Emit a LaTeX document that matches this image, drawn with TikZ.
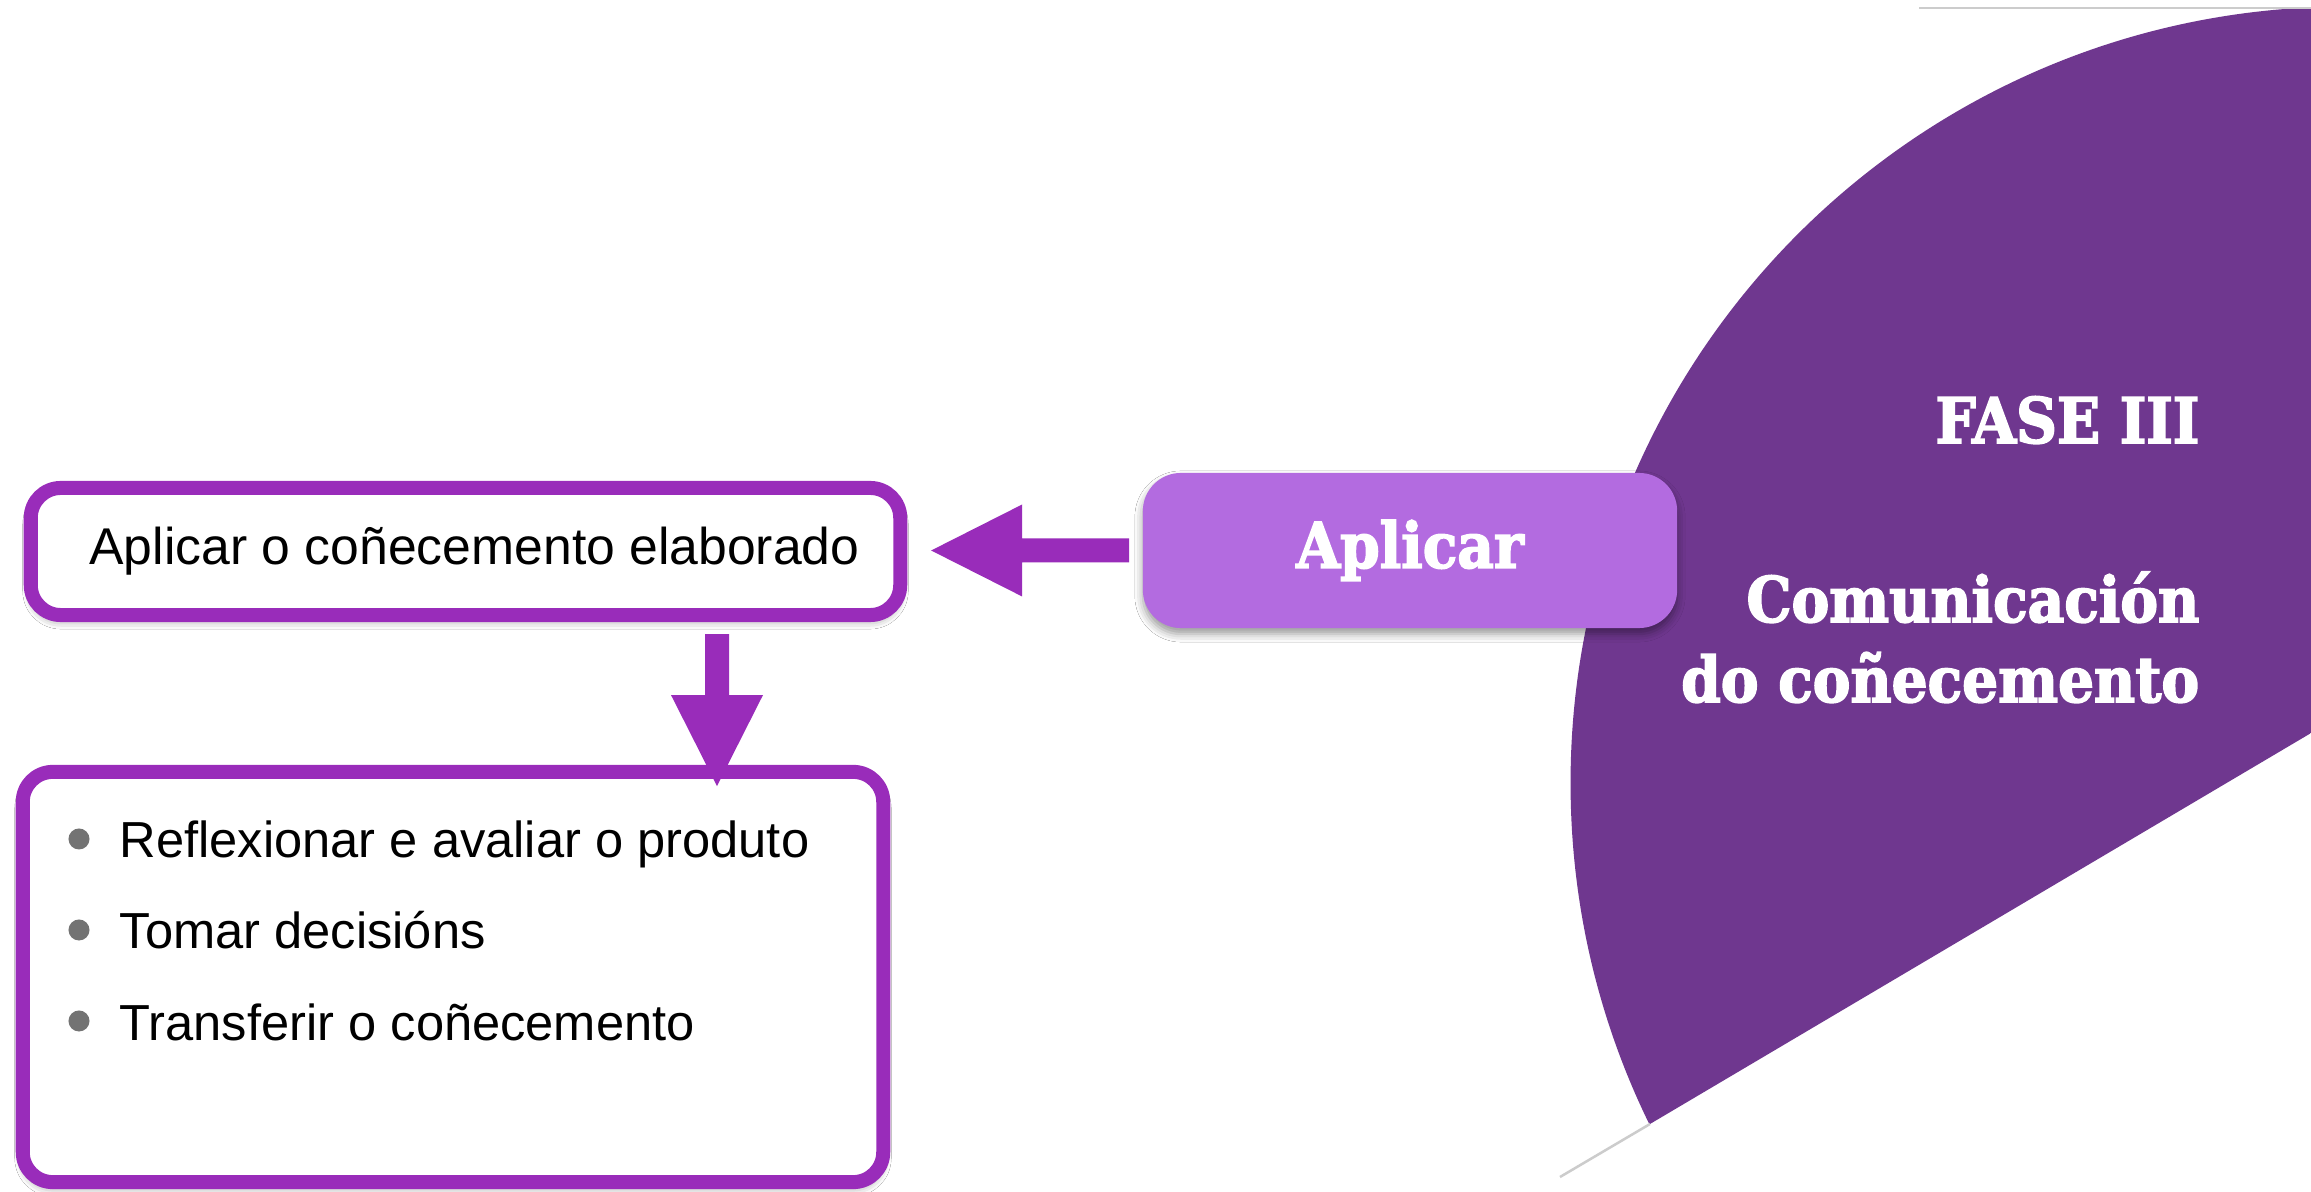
\documentclass[tikz,border=0pt]{standalone}
\usepackage{fontspec}
\setmainfont{Liberation Sans}
\newfontfamily\slabfont{DejaVu Serif Condensed Bold}[FakeBold=2.5]
\usetikzlibrary{calc,shadows.blur}
\definecolor{sectorpurple}{RGB}{111,55,143}
\definecolor{boxpurple}{RGB}{179,107,224}
\definecolor{linepurple}{RGB}{153,44,186}
\definecolor{bulletgray}{RGB}{115,115,115}
\begin{document}
\begin{tikzpicture}[x=0.01cm,y=-0.01cm,
  softshadow/.style={blur shadow={shadow xshift=0pt, shadow yshift=-0.06cm, shadow blur radius=0.08cm, shadow opacity=40}},
  framebox/.style={draw=linepurple, line width=0.14cm, rounded corners=0.3cm, fill=white, inner sep=0pt, softshadow},
  aplbox/.style={fill=boxpurple, rounded corners=0.38cm, inner sep=0pt, text=white, softshadow,
    font=\slabfont\fontsize{17.9pt}{20pt}\selectfont},
  slabtext/.style={inner sep=0pt, text=white, font=\slabfont\fontsize{17.9pt}{20pt}\selectfont},
  bodytext/.style={inner sep=0pt, font=\fontsize{14.7pt}{17pt}\selectfont},
  itemtext/.style={inner sep=0pt, font=\fontsize{14.4pt}{17pt}\selectfont},
  bulletdot/.style={circle, fill=bulletgray, minimum size=0.21cm, inner sep=0pt},
  arrowfill/.style={fill=linepurple},
  faintline/.style={draw=gray!40, line width=0.025cm}]

\useasboundingbox (0,0) rectangle (2311,1192);
\fill[white] (0,0) rectangle (2311,1192);

% sector (circle cut by a straight edge)
\coordinate (C) at (2347,783);
\coordinate (T) at (1650,1124);
\begin{scope}
  \clip (0,0) rectangle (2311,1192);
  \clip (1000,1508.4) -- (3200,207.3) -- (3200,-600) -- (1000,-600) -- cycle;
  \fill[sectorpurple] (C) circle [radius=7.76cm];
\end{scope}
\coordinate (Tend) at (1560,1177);
\coordinate (topa) at (1919,8);
\coordinate (topb) at (2311,8);
\draw[faintline] (T) -- (Tend);
\draw[faintline] (topa) -- (topb);

\node[slabtext, anchor=base east] (fase) at (2200,443) {FASE III};
\node[slabtext, anchor=base east] (comm1) at (2200,622) {Comunicación};
\node[slabtext, anchor=base east] (comm2) at (2200,702) {do coñecemento};

% boxes
\node[aplbox, minimum width=5.34cm, minimum height=1.55cm] (apl) at (1410,550.5) {Aplicar};
\node[framebox, bodytext, minimum width=8.69cm, minimum height=1.27cm] (top) at (465.5,551.5) {\hspace*{0.18cm}Aplicar o coñecemento elaborado};
\node[framebox, minimum width=8.60cm, minimum height=4.10cm] (list) at (453,977) {};

\node[bulletdot] (b1) at (79,839) {};
\node[bulletdot] (b2) at (79,930) {};
\node[bulletdot] (b3) at (79,1021) {};
\node[itemtext, anchor=base west] (i1) at (119,858) {Reflexionar e avaliar o produto};
\node[itemtext, anchor=base west] (i2) at (119,949) {Tomar decisións};
\node[itemtext, anchor=base west] (i3) at (119,1041) {Transferir o coñecemento};

% arrow from Aplicar to the top box
\fill[arrowfill] ($(apl.west)+(-13,-12)$) -- ($(apl.west)+(-120,-12)$) -- ($(apl.west)+(-120,-46)$)
  -- ($(apl.west)+(-211,0)$) -- ($(apl.west)+(-120,46)$) -- ($(apl.west)+(-120,12)$)
  -- ($(apl.west)+(-13,12)$) -- cycle;

% arrow from the top box down to the list
\fill[arrowfill] ($(top.south)+(239.5,12)$) -- ($(top.south)+(263.5,12)$) -- ($(top.south)+(263.5,73)$)
  -- ($(top.south)+(297.5,73)$) -- ($(top.south)+(251.5,164)$) -- ($(top.south)+(205.5,73)$)
  -- ($(top.south)+(239.5,73)$) -- cycle;
\end{tikzpicture}
\end{document}
